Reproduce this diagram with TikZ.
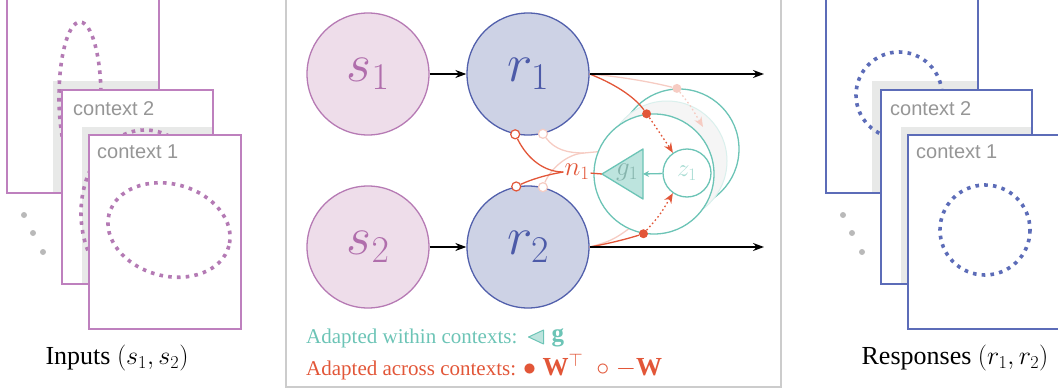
\RequirePackage{fix-cm}
\documentclass[tikz,border=0pt]{standalone}
\usepackage{amsmath,amssymb}
\usepackage{fontspec}
\setmainfont{Liberation Serif}
\setsansfont{Liberation Sans}
\usetikzlibrary{arrows.meta, positioning, calc}

\definecolor{inpink}{RGB}{190,128,190}
\definecolor{outblue}{RGB}{92,108,184}
\definecolor{shadegray}{RGB}{232,233,232}
\definecolor{ctxgray}{RGB}{150,150,150}
\definecolor{sline}{RGB}{182,122,180}
\definecolor{sfill}{RGB}{238,221,234}
\definecolor{stext}{RGB}{176,110,172}
\definecolor{rline}{RGB}{82,96,172}
\definecolor{rfill}{RGB}{205,210,229}
\definecolor{rtext}{RGB}{76,90,168}
\definecolor{tealc}{RGB}{108,196,182}
\definecolor{redo}{RGB}{226,86,56}

\begin{document}
\begin{tikzpicture}[x=1pt, y=-1pt,
        framein/.style={draw=inpink, fill=white, line width=1.3pt},
        frameout/.style={draw=outblue, fill=white, line width=1.3pt},
        shade/.style={fill=shadegray},
        ctxlabel/.style={anchor=west, inner sep=0pt, text=ctxgray, font=\sffamily\fontsize{20}{22}\selectfont},
        dotsin/.style={draw=inpink!95!black, line width=3.6pt, dash pattern=on 3.6pt off 5.2pt},
        dotsout/.style={draw=outblue, line width=3.6pt, dash pattern=on 3.6pt off 5.2pt},
        more/.style={circle, fill=gray!55, inner sep=0pt, minimum size=6pt},
        caption/.style={font=\fontsize{26}{30}\selectfont},
        snode/.style={circle, draw=sline, fill=sfill, line width=1.3pt, minimum size=122pt, inner sep=0pt, text=stext, font=\fontsize{54}{58}\selectfont},
        rnode/.style={circle, draw=rline, fill=rfill, line width=1.3pt, minimum size=122pt, inner sep=0pt, text=rtext, font=\fontsize{54}{58}\selectfont},
        arrow/.style={-{Stealth[length=11pt, width=8pt]}, line width=1.3pt},
        tcirc/.style={circle, draw=tealc, fill=white, line width=1.3pt, minimum size=120pt, inner sep=0pt},
        small/.style={font=\fontsize{27}{30}\selectfont, inner sep=1pt},
        wline/.style={draw=redo, line width=1.3pt},
        paleline/.style={draw=redo!30, line width=1.3pt},
        wdot/.style={circle, fill=redo, inner sep=0pt, minimum size=9pt},
        wopen/.style={circle, draw=redo, fill=white, line width=1.2pt, inner sep=0pt, minimum size=9pt},
        warrow/.style={line width=1.3pt, dash pattern=on 1.6pt off 2.6pt, -{Stealth[length=10pt, width=8pt]}},
        gtri/.style={draw=tealc, fill=tealc!45, line width=1.3pt, line join=round},
        legend/.style={anchor=west, inner sep=0pt, font=\fontsize{21}{24}\selectfont}
    ]
    \useasboundingbox (0,0) rectangle (1058,391);
    \clip (0,0) rectangle (1058,391);

    % Inputs
    \draw[framein] (7,-10) rectangle (159,193);
    \fill[shade] (53,81) rectangle (158.3,192.3);
    \draw[dotsin] (80,97) ellipse [x radius=21, y radius=75];
    \draw[framein] (62,90) rectangle (213,284);
    \fill[shade] (82,127) rectangle (212.3,283.3);
    \node[ctxlabel] (in2) at (73,109) {context 2};
    \draw[dotsin] (145,213) ellipse [x radius=64, y radius=83];
    \draw[framein] (89,135) rectangle (241,329);
    \node[ctxlabel] (in1) at (97,152) {context 1};
    \draw[dotsin, rotate around={-15:(169,230)}] (169,230) ellipse [x radius=62, y radius=46];
    \foreach \x/\y in {24/215, 33/233, 43/252}
        \node[more] at (\x,\y) {};
    \node[caption] (inputs) at (117,358) {Inputs $(s_1, s_2)$};

    % Responses
    \draw[frameout] (826,-10) rectangle (978,193);
    \fill[shade] (872,81) rectangle (977.3,192.3);
    \draw[dotsout] (899,95) circle (43);
    \draw[frameout] (881,90) rectangle (1032,284);
    \fill[shade] (901,127) rectangle (1031.3,283.3);
    \node[ctxlabel] (out2) at (890,109) {context 2};
    \draw[frameout] (908,135) rectangle (1070,329);
    \node[ctxlabel] (out1) at (916,152) {context 1};
    \draw[dotsout] (985,230) circle (45);
    \foreach \x/\y in {843/215, 852/233, 862/252}
        \node[more] at (\x,\y) {};
    \node[caption] (responses) at (955,358) {Responses $(r_1, r_2)$};

    % Network
    \draw[draw=gray!40, line width=1.5pt] (286,-10) rectangle (781,387);
    \node[snode] (s1) at (368,74) {$s_1$};
    \node[snode] (s2) at (368,247) {$s_2$};
    \node[rnode] (r1) at (528,74) {$r_1$};
    \node[rnode] (r2) at (528,247) {$r_2$};
    \draw[arrow] (s1) -- (r1);
    \draw[arrow] (s2) -- (r2);

    % Earlier context (faded copy)
    \node[tcirc] (nb) at (679,149) {};
    \fill[gray!8] (667,161) circle (60);
    \draw[tealc!25, line width=1pt] (667,161) circle (60);
    \node[wdot, fill=redo!30] (pd1) at (nb.92) {};
    \coordinate (pz) at (703,127);
    \draw[paleline] (r1.east) .. controls (625,77) and (655,83) .. (pd1);
    \draw[warrow, redo!30] (pd1) .. controls (690,105) .. (pz);
    \draw[paleline] (r2.east) .. controls (615,240) .. (nb.250);
    \node[wopen, draw=redo!30] (po1) at (r1.284) {};
    \node[wopen, draw=redo!30] (po2) at (r2.76) {};
    \coordinate (pj) at (584,153);
    \coordinate (pn) at (627,149);
    \draw[paleline] (po1) .. controls (555,150) and (568,153) .. (pj) -- (pn);
    \draw[paleline] (po2) .. controls (550,170) and (566,154) .. (pj);

    % Current context
    \node[tcirc] (nf) at (654,174) {};
    \node[circle, draw=tealc, line width=1.3pt, minimum size=48pt, inner sep=0pt, text=tealc!60, font=\fontsize{25}{28}\selectfont] (z1) at (687,173) {$z_1$};
    \coordinate (gtip) at (602,174);
    \coordinate (gbase) at (643,174);
    \draw[gtri] (gtip) -- (643,149) -- (643,199) -- cycle;
    \node[small, text=tealc!75!black!70] (g1) at (627,172) {$g_1$};
    \draw[tealc, line width=1.3pt, -{Stealth[length=6pt, width=6pt]}] (z1) -- (gbase);
    \node[small, text=redo] (n1) at (577,172) {$n_1$};
    \draw[wline] (n1) -- (gtip);

    \node[wdot] (d1) at (nf.97) {};
    \node[wdot] (d2) at (nf.260) {};
    \draw[wline] (r1.east) .. controls (620,86) and (637,100) .. (d1);
    \draw[wline] (r2.east) .. controls (612,243) and (630,238) .. (d2);
    \draw[warrow, redo] (d1) .. controls (660,132) .. (z1.125);
    \draw[warrow, redo] (d2) .. controls (660,215) .. (z1.235);
    \node[wopen] (o1) at (r1.258) {};
    \node[wopen] (o2) at (r2.101) {};
    \draw[wline] (o1) .. controls (528,160) and (545,172) .. (n1.west);
    \draw[wline] (o2) .. controls (530,180) and (545,175) .. (n1.west);

    \coordinate (end1) at (764,74);
    \coordinate (end2) at (764,247);
    \draw[arrow] (r1) -- (end1);
    \draw[arrow] (r2) -- (end2);

    % Legend
    \node[legend, text=tealc] (within) at (306,338) {Adapted within contexts:};
    \draw[gtri, line width=1pt] ($(within.east)+(11,-1)$) -- ++(15,-7) -- ++(0,14) -- cycle;
    \node[legend, text=tealc, right=34pt of within] (gvec) {\fontsize{25}{28}\selectfont$\mathbf{g}$};
    \node[legend, text=redo] (across) at (306,367) {Adapted across contexts: {\fontsize{26}{28}\selectfont$\bullet$ $\mathbf{W}^{\top}$\ \ $\circ$ $-\mathbf{W}$}};

\end{tikzpicture}
\end{document}
